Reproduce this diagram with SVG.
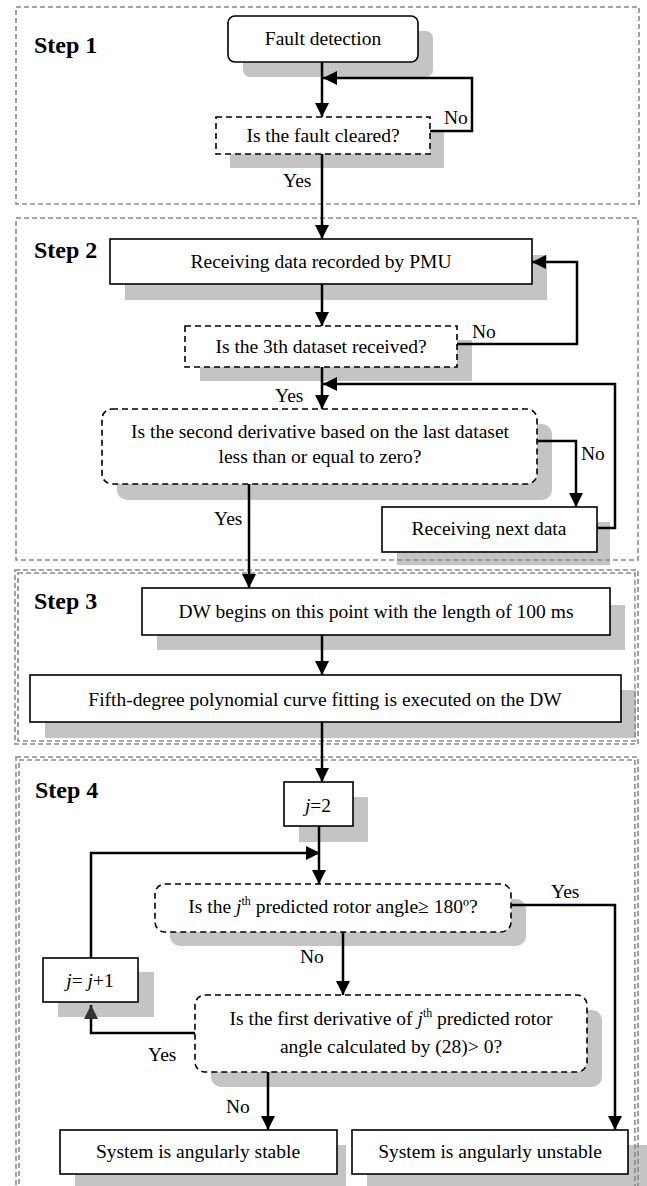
<svg xmlns="http://www.w3.org/2000/svg" width="647" height="1186" viewBox="0 0 647 1186">
<defs>
<marker id="ah" viewBox="0 0 14 14" refX="14" refY="7" markerWidth="14" markerHeight="14" orient="auto" markerUnits="userSpaceOnUse"><path d="M0,0 L14,7 L0,14 z" fill="#000"/></marker>
<marker id="ahg" viewBox="0 0 14 14" refX="14" refY="7" markerWidth="14" markerHeight="14" orient="auto" markerUnits="userSpaceOnUse"><path d="M0,0 L14,7 L0,14 z" fill="#333"/></marker>
</defs>
<style>
.shadow{fill:#c4c4c4;stroke:none}
.box{fill:#fff;stroke:#000;stroke-width:1.6}
.dbox{fill:#fff;stroke:#000;stroke-width:1.6;stroke-dasharray:6,4}
.cont{fill:none;stroke:#8a8a8a;stroke-width:1.6;stroke-dasharray:5,3}
.t{font-family:"Liberation Serif","Times New Roman",serif;font-size:19.5px;fill:#000;text-anchor:middle}
.l{font-family:"Liberation Serif","Times New Roman",serif;font-size:19.5px;fill:#000}
.step{font-family:"Liberation Serif","Times New Roman",serif;font-size:24px;font-weight:bold;fill:#000}
.c{fill:none;stroke:#000;stroke-width:2.5;marker-end:url(#ah)}
.cn{fill:none;stroke:#000;stroke-width:2.5}
</style>
<rect width="647" height="1186" fill="#fff"/>

<!-- shadows -->
<g id="shadows">
<rect class="shadow" x="243" y="31" width="190" height="46" rx="7"/>
<rect class="shadow" x="230" y="130" width="214" height="38"/>
<rect class="shadow" x="125" y="255" width="422" height="45"/>
<rect class="shadow" x="200" y="340" width="272" height="41"/>
<rect class="shadow" x="117" y="424" width="435" height="76" rx="10"/>
<rect class="shadow" x="397" y="522" width="213" height="43"/>
<rect class="shadow" x="157" y="605" width="468" height="45"/>
<rect class="shadow" x="45" y="690" width="591" height="48"/>
<rect class="shadow" x="299" y="797" width="69" height="45"/>
<rect class="shadow" x="170" y="899" width="356" height="47" rx="10"/>
<rect class="shadow" x="58" y="972" width="96" height="45"/>
<rect class="shadow" x="211" y="1010" width="391" height="77" rx="10"/>
<rect class="shadow" x="75" y="1145" width="271" height="50"/>
<rect class="shadow" x="367" y="1145" width="280" height="50"/>
</g>

<!-- step containers -->
<g id="step1">
<rect class="cont" x="16" y="7" width="623" height="197"/>
<text class="step" x="34" y="53">Step 1</text>
</g>
<g id="step2">
<rect class="cont" x="16" y="218" width="622" height="342"/>
<text class="step" x="34" y="258">Step 2</text>
</g>
<g id="step3">
<rect class="cont" x="15" y="570" width="623" height="174"/>
<rect class="cont" x="18" y="573" width="617" height="168"/>
<text class="step" x="34" y="609">Step 3</text>
</g>
<g id="step4">
<rect class="cont" x="16" y="757" width="622" height="440"/>
<rect class="cont" x="19" y="760" width="616" height="440"/>
<text class="step" x="35" y="798">Step 4</text>
</g>

<!-- connectors -->
<g id="connectors">
<path class="c" d="M322,62 V117"/>
<path class="c" d="M430,131 H472 V78 H323"/>
<path class="c" d="M322,154 V239"/>
<path class="c" d="M322,284 V326"/>
<path class="c" d="M457,344 H577 V262 H532"/>
<path class="c" d="M322,367 V409"/>
<path class="c" d="M597,528 H615 V384 H323"/>
<path class="c" d="M537,441 H576 V507"/>
<path class="c" d="M249,484 V588"/>
<path class="c" d="M322,635 V675"/>
<path class="c" d="M322,722 V782"/>
<path class="c" d="M319,826 V884"/>
<path class="c" d="M91,958 V853 H320"/>
<path class="c" d="M511,905 H615 V1130"/>
<path class="c" d="M343,932 V995"/>
<path class="cn" d="M195,1033 H91 V1005" style="marker-end:url(#ahg)"/>
<path class="c" d="M268,1072 V1130"/>
<text class="l" x="444" y="124">No</text>
<text class="l" x="283" y="187">Yes</text>
<text class="l" x="472" y="338">No</text>
<text class="l" x="275" y="402">Yes</text>
<text class="l" x="581" y="460">No</text>
<text class="l" x="214" y="525">Yes</text>
<text class="l" x="551" y="898">Yes</text>
<text class="l" x="300" y="963">No</text>
<text class="l" x="148" y="1061">Yes</text>
<text class="l" x="226" y="1113">No</text>
</g>

<!-- nodes -->
<g id="fault-detection">
<rect class="box" x="228" y="16" width="190" height="46" rx="7"/>
<text class="t" x="323" y="45">Fault detection</text>
</g>
<g id="fault-cleared">
<rect class="dbox" x="216" y="117" width="214" height="37"/>
<text class="t" x="323" y="142">Is the fault cleared?</text>
</g>
<g id="receiving-data">
<rect class="box" x="110" y="239" width="422" height="45"/>
<text class="t" x="321" y="268">Receiving data recorded by PMU</text>
</g>
<g id="third-dataset">
<rect class="dbox" x="185" y="326" width="272" height="41"/>
<text class="t" x="321" y="353">Is the 3th dataset received?</text>
</g>
<g id="second-derivative">
<rect class="dbox" x="102" y="409" width="435" height="75" rx="10"/>
<text class="t" x="320" y="438">Is the second derivative based on the last dataset</text>
<text class="t" x="320" y="463">less than or equal to zero?</text>
</g>
<g id="receiving-next">
<rect class="box" x="382" y="507" width="215" height="45"/>
<text class="t" x="489" y="535">Receiving next data</text>
</g>
<g id="dw-begins">
<rect class="box" x="142" y="588" width="468" height="47"/>
<text class="t" x="376" y="618">DW begins on this point with the length of 100 ms</text>
</g>
<g id="curve-fitting">
<rect class="box" x="30" y="675" width="591" height="47"/>
<text class="t" x="325" y="706">Fifth-degree polynomial curve fitting is executed on the DW</text>
</g>
<g id="j-init">
<rect class="box" x="284" y="782" width="69" height="44"/>
<text class="t" x="318" y="812"><tspan font-style="italic">j</tspan>=2</text>
</g>
<g id="rotor-angle">
<rect class="dbox" x="155" y="884" width="356" height="48" rx="10"/>
<text class="t" x="333" y="913">Is the <tspan font-style="italic">j</tspan><tspan font-size="12" dy="-8">th</tspan><tspan dy="8"> predicted rotor angle≥ 180º?</tspan></text>
</g>
<g id="j-increment">
<rect class="box" x="43" y="958" width="95" height="44"/>
<text class="t" x="90" y="987"><tspan font-style="italic">j</tspan>= <tspan font-style="italic">j</tspan>+1</text>
</g>
<g id="first-derivative">
<rect class="dbox" x="195" y="995" width="392" height="77" rx="10"/>
<text class="t" x="391" y="1025">Is the first derivative of <tspan font-style="italic">j</tspan><tspan font-size="12" dy="-8">th</tspan><tspan dy="8"> predicted rotor</tspan></text>
<text class="t" x="391" y="1053">angle calculated by (28)&gt; 0?</text>
</g>
<g id="stable">
<rect class="box" x="60" y="1130" width="277" height="44"/>
<text class="t" x="198" y="1158">System is angularly stable</text>
</g>
<g id="unstable">
<rect class="box" x="352" y="1130" width="276" height="44"/>
<text class="t" x="490" y="1158">System is angularly unstable</text>
</g>
</svg>
